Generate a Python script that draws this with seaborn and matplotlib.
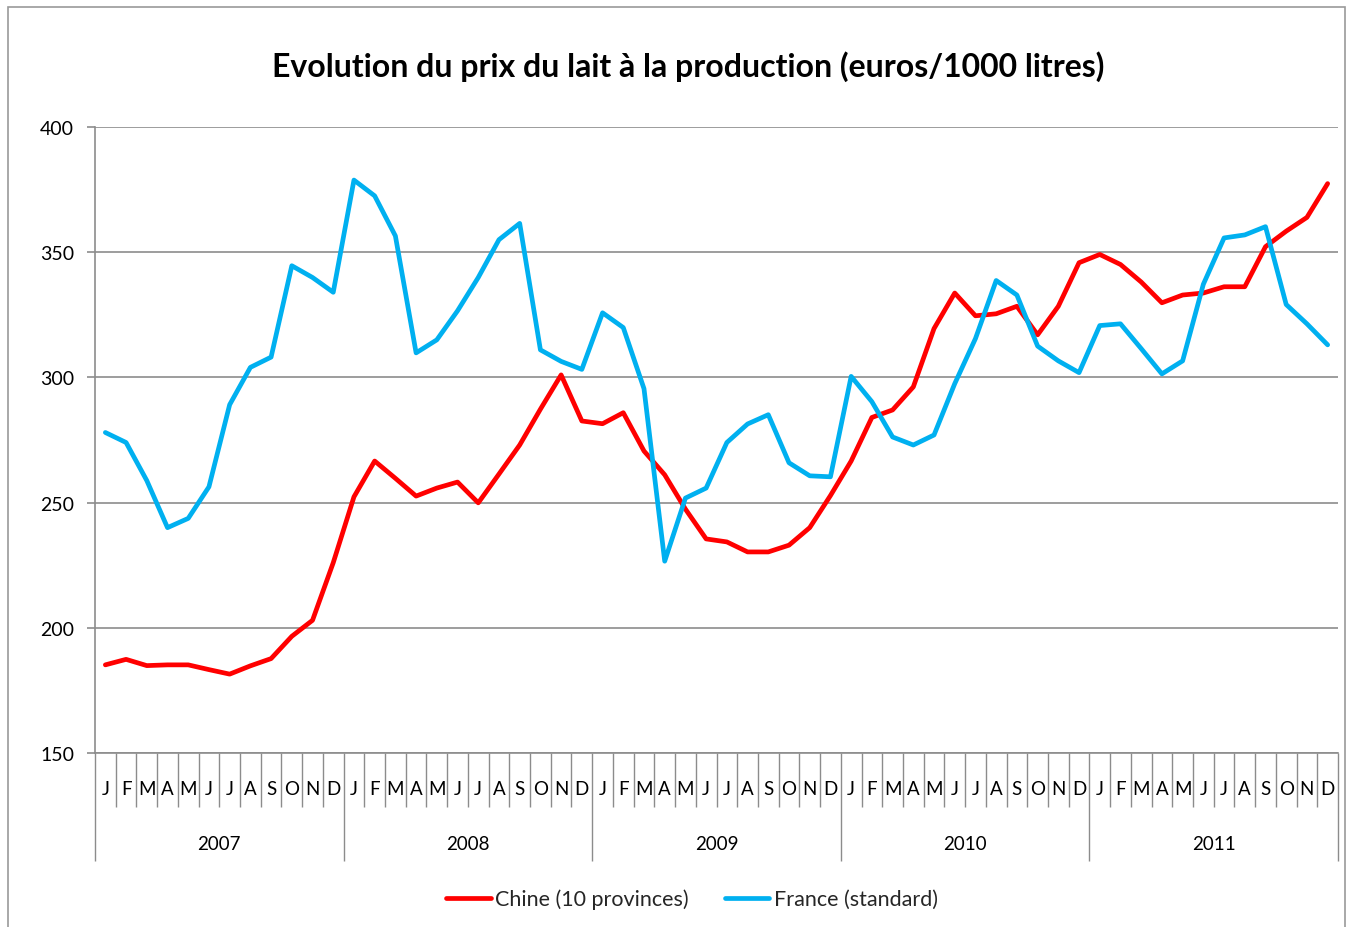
import numpy as np
import pandas as pd
import matplotlib
matplotlib.use("Agg")
import matplotlib.pyplot as plt
import matplotlib.transforms as mtransforms
from matplotlib.patches import Rectangle
import seaborn as sns

# ---------------- data ----------------
months = ["J", "F", "M", "A", "M", "J", "J", "A", "S", "O", "N", "D"]
years = ["2007", "2008", "2009", "2010", "2011"]

chine = [185.2, 187.4, 184.9, 185.2, 185.2, 183.3, 181.5, 184.8, 187.7, 196.6, 203.0, 226.0,
         252.3, 266.6, 259.7, 252.6, 255.8, 258.2, 249.9, 261.4, 273.0, 287.3, 301.0, 282.6,
         281.5, 285.9, 270.6, 261.1, 247.4, 235.5, 234.3, 230.3, 230.3, 233.0, 240.0, 252.8,
         266.6, 284.0, 287.0, 296.2, 319.5, 333.7, 324.6, 325.4, 328.4, 317.0, 328.4, 345.8,
         349.1, 345.1, 338.1, 329.8, 332.9, 333.7, 336.2, 336.2, 352.2, 358.4, 363.9, 377.4]

france = [278.0, 274.0, 258.8, 240.0, 243.7, 256.3, 289.1, 304.0, 308.1, 344.6, 339.9, 334.0,
          378.8, 372.5, 356.5, 309.8, 315.0, 326.6, 339.9, 355.0, 361.5, 311.0, 306.4, 303.2,
          325.8, 319.9, 295.5, 226.6, 251.8, 255.8, 274.0, 281.4, 285.1, 265.9, 260.7, 260.3,
          300.4, 290.3, 276.2, 273.0, 277.0, 297.5, 315.5, 338.7, 332.9, 312.5, 306.6, 301.9,
          320.7, 321.4, 311.5, 301.4, 306.6, 337.2, 355.7, 356.9, 360.2, 329.1, 321.4, 313.0]

series_names = ["Chine (10 provinces)", "France (standard)"]
colors = {"Chine (10 provinces)": "#FF0000", "France (standard)": "#00B0F0"}
yticks = [150, 200, 250, 300, 350, 400]
title = "Evolution du prix du lait à la production (euros/1000 litres)"

n = len(chine)
df = pd.DataFrame({
    "mois": list(range(n)) * 2,
    "prix": chine + france,
    "serie": [series_names[0]] * n + [series_names[1]] * n,
})

# ---------------- style ----------------
sns.set_theme(style="white")
plt.rcParams["font.family"] = ["Lato", "DejaVu Sans"]

W, H = 1347, 928
fig = plt.figure(figsize=(W / 100, H / 100), dpi=100)
L, R, T, B = 95, 1338, 128, 754
ax = fig.add_axes([L / W, 1 - B / H, (R - L) / W, (B - T) / H])

sns.lineplot(data=df, x="mois", y="prix", hue="serie", palette=colors,
             linewidth=3.4, ax=ax, legend=False,
             solid_joinstyle="round", solid_capstyle="round")

grey = "#8c8c8c"
ax.set_xlim(-0.5, n - 0.5)
ax.set_ylim(150, 400)
ax.set_yticks(yticks)
ax.set_yticklabels([str(v) for v in yticks], fontsize=14, color="#000000")
ax.yaxis.grid(True, color=grey, linewidth=1.2)
ax.xaxis.grid(False)
ax.set_xlabel("")
ax.set_ylabel("")
for s in ["top", "right"]:
    ax.spines[s].set_visible(False)
for s in ["left", "bottom"]:
    ax.spines[s].set_color(grey)
    ax.spines[s].set_linewidth(1.2)
ax.tick_params(axis="y", which="major", length=6, width=1.2, color=grey, pad=9, left=True)

# multi-level category axis
month_len = (808 - B) * 0.72
year_len = (862 - B) * 0.72
ax.set_xticks([i * 12 - 0.5 for i in range(len(years) + 1)])
ax.set_xticks([k - 0.5 for k in range(n + 1)], minor=True)
ax.set_xticklabels([])
ax.tick_params(axis="x", which="major", length=year_len, width=1.0, color=grey, bottom=True)
ax.tick_params(axis="x", which="minor", length=month_len, width=1.0, color=grey, bottom=True)

trans = mtransforms.blended_transform_factory(ax.transData, ax.transAxes)
ph = B - T
for k in range(n):
    ax.text(k, -(790 - B) / ph, months[k % 12], transform=trans,
            ha="center", va="center", fontsize=13.5, color="#000000")
for i, y in enumerate(years):
    ax.text(i * 12 + 5.5, -(845 - B) / ph, y, transform=trans,
            ha="center", va="center", fontsize=13.5, color="#000000")

# title
fig.text(688 / W, 1 - 67 / H, title, ha="center", va="center",
         fontsize=23, fontweight="bold", color="#000000")

# legend
handles = ax.get_lines()[:2]
fig.legend(handles, series_names, loc="center", bbox_to_anchor=(692 / W, 1 - 900 / H),
           ncol=2, frameon=False, fontsize=15.5, handlelength=2.05,
           handletextpad=0.2, columnspacing=1.7)

# chart outer border
fig.patches.append(Rectangle((8 / W, -0.02), (1345 - 8) / W, 1 + 0.02 - 8 / H,
                             transform=fig.transFigure, fill=False,
                             edgecolor="#9a9a9a", linewidth=1.2))

fig.savefig("out.png", dpi=100)
